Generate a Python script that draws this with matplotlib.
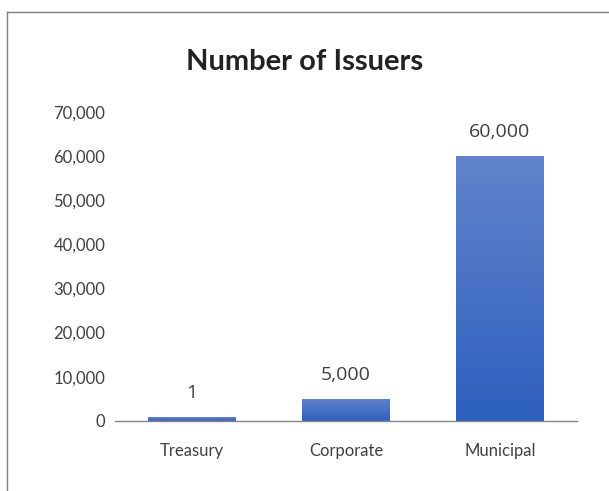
import numpy as np
import matplotlib
matplotlib.use("Agg")
import matplotlib.pyplot as plt
from matplotlib.colors import LinearSegmentedColormap
from matplotlib.lines import Line2D
from matplotlib.ticker import FuncFormatter

# --- Data
categories  = ["Treasury", "Corporate", "Municipal"]
bar_heights = [800, 5000, 60000]          # drawn heights
bar_labels  = ["1", "5,000", "60,000"]    # printed labels
y_ticks     = [0, 10000, 20000, 30000, 40000, 50000, 60000, 70000]

plt.rcParams['font.family'] = ['Lato', 'DejaVu Sans']

fig = plt.figure(figsize=(6.09, 4.91), dpi=100)
ax = fig.add_axes([0.189, 0.1426, 0.758, 0.63])

x = np.arange(len(categories))
bars = ax.bar(x, bar_heights, width=0.57, color='none', edgecolor='none', zorder=2)

# --- vertical gradient in each bar (lighter at top)
cmap = LinearSegmentedColormap.from_list('bar', ['#2d60bf', '#6383cc'])
grad = np.linspace(0, 1, 256).reshape(-1, 1)
for b in bars:
    x0, w, h = b.get_x(), b.get_width(), b.get_height()
    im = ax.imshow(grad, extent=[x0, x0 + w, 0, h], origin='lower',
                   aspect='auto', cmap=cmap, zorder=2)
    im.set_clip_path(b)

for xi, h, lab in zip(x, bar_heights, bar_labels):
    ax.annotate(lab, (xi, h), xytext=(0, 11), textcoords='offset points',
                ha='center', va='bottom', fontsize=14, color='#404040',
                family=['Open Sans', 'DejaVu Sans'])

ax.set_xlim(-0.5, len(categories) - 0.5)
ax.set_ylim(0, 70000)
ax.set_yticks(y_ticks)
ax.yaxis.set_major_formatter(FuncFormatter(lambda v, p: f"{int(v):,}"))
ax.set_xticks(x)
ax.set_xticklabels(categories)
ax.tick_params(axis='both', length=0, labelsize=12, colors='#404040')
ax.tick_params(axis='x', pad=16)
ax.tick_params(axis='y', pad=7)

for s in ['top', 'right', 'left']:
    ax.spines[s].set_visible(False)
ax.spines['bottom'].set_color('#868686')
ax.spines['bottom'].set_linewidth(1.0)

fig.text(0.5, 0.873, "Number of Issuers", ha='center', va='center',
         fontsize=21, fontweight='bold', color='#222222')

# --- chart-area border (left and top edges visible)
bx, by = 7 / 609, 1 - 12 / 491
fig.add_artist(Line2D([bx, bx], [0, by], transform=fig.transFigure, color='#7f7f7f', lw=1))
fig.add_artist(Line2D([bx, 1], [by, by], transform=fig.transFigure, color='#7f7f7f', lw=1))

fig.savefig("out.png", dpi=100)
